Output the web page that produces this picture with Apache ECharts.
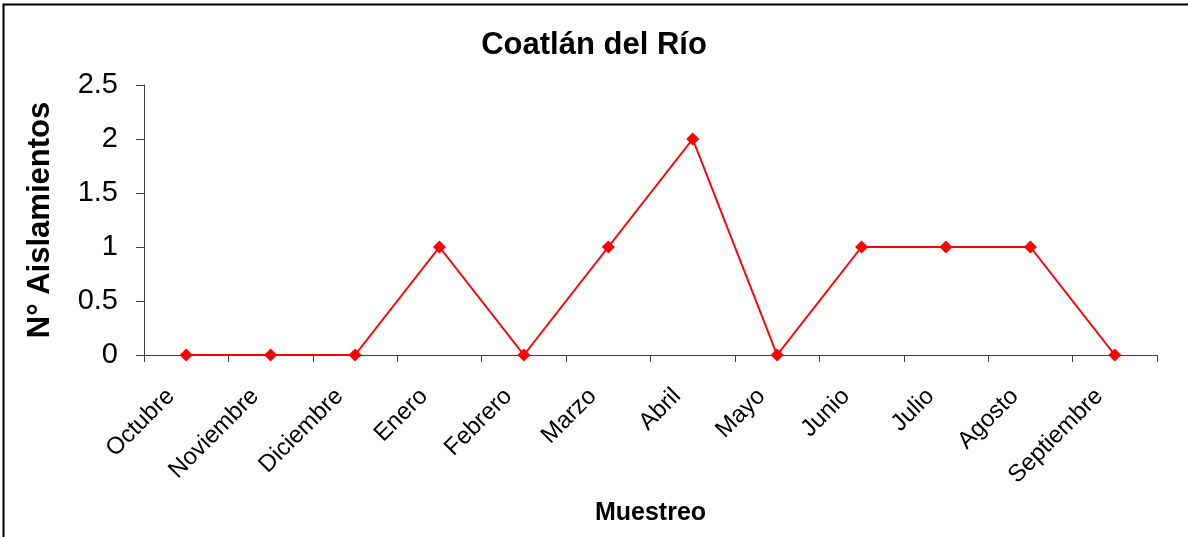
<!DOCTYPE html>
<html>
<head>
<meta charset="utf-8">
<script src="https://cdn.jsdelivr.net/npm/echarts@6/dist/echarts.min.js"></script>
<style>
html,body{margin:0;padding:0;background:#fff;}
#chart{width:1188px;height:537px;}
</style>
</head>
<body>
<div id="chart"></div>
<script>
const titleText = 'Coatlán del Río';
const categories = ['Octubre','Noviembre','Diciembre','Enero','Febrero','Marzo','Abril','Mayo','Junio','Julio','Agosto','Septiembre'];
const aislamientos = [0,0,0,1,0,1,2,0,1,1,1,0];
const yAxisName = 'N° Aislamientos';
const xAxisName = 'Muestreo';

const chart = echarts.init(document.getElementById('chart'));
chart.setOption({
  animation: false,
  backgroundColor: '#ffffff',
  title: {
    text: titleText,
    left: 'center',
    top: 25,
    textStyle: {fontFamily: 'Liberation Sans, Arial', fontWeight: 'bold', fontSize: 31, color: '#000'}
  },
  graphic: [{
    type: 'rect',
    shape: {x: 3.5, y: 4.5, width: 1300, height: 700},
    style: {fill: 'none', stroke: '#000', lineWidth: 2},
    silent: true
  }],
  grid: {left: 144, right: 31, top: 85, bottom: 182},
  xAxis: {
    type: 'category',
    data: categories,
    boundaryGap: true,
    name: xAxisName,
    nameLocation: 'middle',
    nameGap: 146,
    nameTextStyle: {fontFamily: 'Liberation Sans, Arial', fontWeight: 'bold', fontSize: 25, color: '#000'},
    axisLine: {lineStyle: {color: '#404040', width: 1}},
    axisTick: {show: true, length: 7, lineStyle: {color: '#404040'}},
    axisLabel: {rotate: 45, fontFamily: 'Liberation Sans, Arial', fontSize: 24, color: '#000', margin: 22, padding: [0, 22, 0, 0], interval: 0},
    splitLine: {show: false}
  },
  yAxis: {
    type: 'value',
    min: 0,
    max: 2.5,
    interval: 0.5,
    name: yAxisName,
    nameLocation: 'middle',
    nameGap: 88,
    nameTextStyle: {fontFamily: 'Liberation Sans, Arial', fontWeight: 'bold', fontSize: 31, color: '#000'},
    axisLine: {show: true, lineStyle: {color: '#404040', width: 1}},
    axisTick: {show: true, length: 8, lineStyle: {color: '#404040'}},
    axisLabel: {fontFamily: 'Liberation Sans, Arial', fontSize: 29, color: '#000', margin: 26},
    splitLine: {show: false}
  },
  series: [{
    type: 'line',
    data: aislamientos,
    symbol: 'diamond',
    symbolSize: 13,
    itemStyle: {color: '#ff0000'},
    lineStyle: {color: '#ff0000', width: 2}
  }]
});
</script>
</body>
</html>
